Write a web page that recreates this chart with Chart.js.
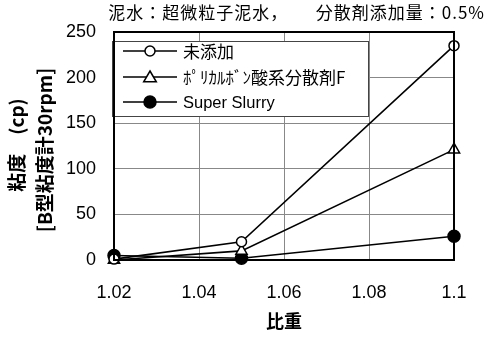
<!DOCTYPE html>
<html>
<head>
<meta charset="utf-8">
<script src="https://cdn.jsdelivr.net/npm/chart.js@4/dist/chart.umd.min.js"></script>
<style>
  html, body { margin: 0; padding: 0; background: #fff; }
  #wrap { width: 489px; height: 338px; position: relative; }
</style>
</head>
<body>
<div id="wrap"><canvas id="c" width="489" height="338"></canvas></div>
<script>
// 比重ごとの粘度 (cp)
const specificGravity = [1.02, 1.05, 1.1];
const seriesNames = ['未添加', 'ﾎﾟﾘｶﾙﾎﾞﾝ酸系分散剤F', 'Super Slurry'];
const noAdditive = [1, 20, 235];
const polycarboxylic = [0, 10, 121];
const superSlurry = [5, 2, 26];
const xTicks = [1.02, 1.04, 1.06, 1.08, 1.1];
const yTicks = [0, 50, 100, 150, 200, 250];

const latin = '"Liberation Sans", Arial, sans-serif';
const cjk = '"Noto Sans CJK JP", "Liberation Sans", sans-serif';

function toXY(vals) {
  return specificGravity.map((x, i) => ({ x: x, y: vals[i] }));
}

const common = {
  borderColor: '#000',
  borderWidth: 1.6,
  pointRadius: 5,
  pointBorderWidth: 1.5,
  pointBorderColor: '#000',
  tension: 0,
  clip: false
};

// 凡例・軸タイトル・上部注記の描画
const decor = {
  id: 'decor',
  afterDraw(chart) {
    const ctx = chart.ctx;
    const area = chart.chartArea;
    ctx.save();

    // 上部注記
    ctx.fillStyle = '#000';
    ctx.font = '17px ' + cjk;
    ctx.letterSpacing = '1px';
    ctx.textAlign = 'right';
    ctx.textBaseline = 'middle';
    ctx.fillText('泥水：超微粒子泥水，　　分散剤添加量：0.5%', 485, 13);
    ctx.letterSpacing = '0px';

    // 縦軸タイトル (2行)
    ctx.font = 'bold 19px ' + cjk;
    ctx.textAlign = 'center';
    ctx.save();
    ctx.translate(17, 145);
    ctx.rotate(-Math.PI / 2);
    ctx.fillText('粘度　(cp)', 0, 0);
    ctx.restore();
    ctx.save();
    ctx.translate(45, 150);
    ctx.rotate(-Math.PI / 2);
    ctx.fillText('[B型粘度計30rpm]', 0, 0);
    ctx.restore();

    // 横軸タイトル
    ctx.font = 'bold 18px ' + cjk;
    ctx.fillText('比重', (area.left + area.right) / 2, 321);

    // 凡例
    const bx = 112, by = 41, bw = 256, bh = 75;
    ctx.fillStyle = '#fff';
    ctx.fillRect(bx, by, bw, bh);
    ctx.strokeStyle = '#444';
    ctx.lineWidth = 1;
    ctx.strokeRect(bx + 0.5, by + 0.5, bw, bh);

    const rows = [51, 77, 102];
    chart.data.datasets.forEach((ds, i) => {
      const y = rows[i];
      ctx.strokeStyle = '#000';
      ctx.lineWidth = 1.6;
      ctx.beginPath();
      ctx.moveTo(123, y);
      ctx.lineTo(177, y);
      ctx.stroke();
      ctx.fillStyle = ds.pointBackgroundColor;
      ctx.strokeStyle = '#000';
      ctx.lineWidth = ds.pointBorderWidth;
      ctx.beginPath();
      if (ds.pointStyle === 'triangle') {
        const r = 6;
        ctx.moveTo(150, y - r);
        ctx.lineTo(150 + r * 1.05, y + r * 0.8);
        ctx.lineTo(150 - r * 1.05, y + r * 0.8);
        ctx.closePath();
      } else {
        ctx.arc(150, y, ds.pointRadius, 0, Math.PI * 2);
      }
      ctx.fill();
      ctx.stroke();
      ctx.fillStyle = '#000';
      ctx.textAlign = 'left';
      ctx.textBaseline = 'middle';
      ctx.font = (i === 2 ? '16.5px ' + latin : '17px ' + cjk);
      ctx.fillText(ds.label, 183, y + 1);
    });

    // 枠線
    ctx.strokeStyle = '#000';
    ctx.lineWidth = 2;
    ctx.strokeRect(area.left, area.top, area.right - area.left, area.bottom - area.top);
    ctx.restore();
  }
};

new Chart(document.getElementById('c'), {
  type: 'line',
  data: {
    datasets: [
      Object.assign({}, common, {
        label: seriesNames[0],
        data: toXY(noAdditive),
        pointStyle: 'circle',
        pointBackgroundColor: '#fff'
      }),
      Object.assign({}, common, {
        label: seriesNames[1],
        data: toXY(polycarboxylic),
        pointStyle: 'triangle',
        pointRadius: 6.5,
        pointBackgroundColor: '#fff'
      }),
      Object.assign({}, common, {
        label: seriesNames[2],
        data: toXY(superSlurry),
        pointStyle: 'circle',
        pointRadius: 6,
        pointBackgroundColor: '#000'
      })
    ]
  },
  options: {
    responsive: false,
    animation: false,
    events: [],
    layout: { padding: { left: 0, right: 35, top: 32, bottom: 0 } },
    plugins: {
      legend: { display: false },
      tooltip: { enabled: false },
      title: { display: false }
    },
    scales: {
      x: {
        type: 'linear',
        min: 1.02,
        max: 1.1,
        afterBuildTicks(scale) { scale.ticks = xTicks.map(v => ({ value: v })); },
        afterFit(scale) { scale.height = 78; },
        grid: { color: '#888', lineWidth: 1, drawTicks: false },
        border: { display: false },
        ticks: {
          color: '#000',
          padding: 22,
          font: { family: latin, size: 18 },
          callback: v => String(Math.round(v * 100) / 100)
        }
      },
      y: {
        type: 'linear',
        min: 0,
        max: 250,
        afterBuildTicks(scale) { scale.ticks = yTicks.map(v => ({ value: v })); },
        afterFit(scale) { scale.width = 114; },
        grid: { color: '#888', lineWidth: 1, drawTicks: false },
        border: { display: false },
        ticks: {
          color: '#000',
          padding: 18,
          font: { family: latin, size: 18 }
        }
      }
    }
  },
  plugins: [decor]
});
</script>
</body>
</html>
